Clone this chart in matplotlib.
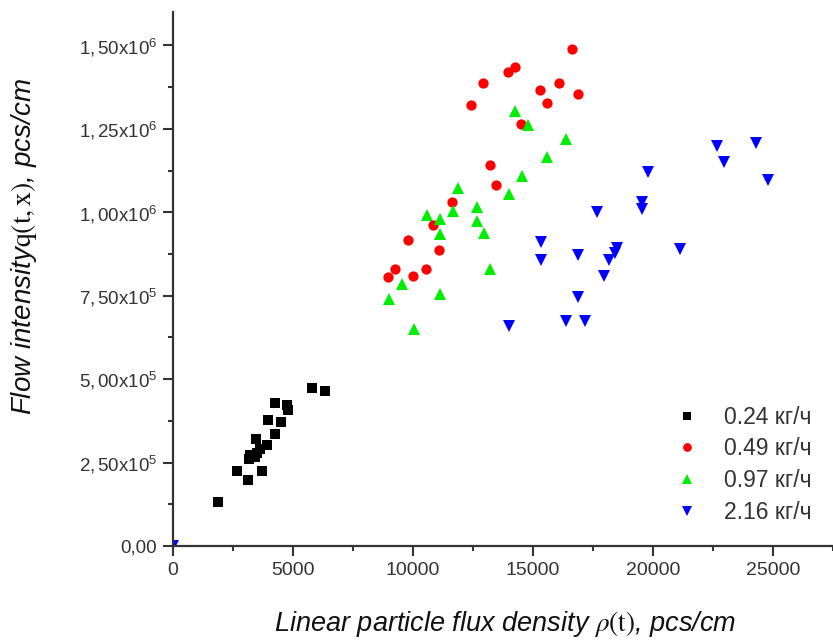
import matplotlib
matplotlib.use("Agg")
import matplotlib.pyplot as plt
from matplotlib.ticker import FuncFormatter, MultipleLocator

plt.rcParams['font.family'] = ['Liberation Sans', 'DejaVu Sans']
plt.rcParams['mathtext.fontset'] = 'stix'

# ---- data ----
series_labels = ["0.24 кг/ч", "0.49 кг/ч", "0.97 кг/ч", "2.16 кг/ч"]

x_024 = [1890, 2650, 3140, 3720, 3180, 3210, 3420, 3490, 3630, 3450, 3900,
         3970, 4250, 4500, 4250, 4740, 4780, 5800, 6330]
y_024 = [132000, 225000, 198000, 225000, 260000, 272000, 266000, 279000,
         292000, 322000, 302000, 377000, 337000, 372000, 427000, 422000,
         407000, 472000, 465000]

x_049 = [16610, 12930, 13970, 14250, 15290, 16100, 16860, 15600, 12400,
         14490, 13210, 13460, 11610, 10820, 9780, 11080, 9250, 8970, 10010,
         10540]
y_049 = [1490000, 1387000, 1420000, 1435000, 1365000, 1388000, 1355000,
         1327000, 1322000, 1265000, 1143000, 1081000, 1031000, 961000,
         916000, 886000, 831000, 806000, 809000, 831000]

x_097 = [14250, 14800, 16380, 15570, 14550, 14010, 11890, 12680, 11650,
         10570, 11130, 12680, 11130, 12960, 13210, 9530, 9010, 11130, 10040, 0]
y_097 = [1302000, 1260000, 1218000, 1166000, 1109000, 1056000, 1074000,
         1016000, 1004000, 991000, 981000, 974000, 936000, 938000, 831000,
         786000, 741000, 754000, 649000, 0]

x_216 = [22680, 24290, 22960, 24800, 19800, 19530, 19530, 17680, 15320,
         15330, 18490, 18420, 18180, 21130, 16890, 17960, 16890, 16380,
         17170, 14010, 0]
y_216 = [1198000, 1206000, 1151000, 1096000, 1121000, 1031000, 1011000,
         1001000, 911000, 858000, 893000, 878000, 858000, 889000, 871000,
         808000, 746000, 674000, 674000, 660000, 0]

y_ticks = [0, 250000, 500000, 750000, 1000000, 1250000, 1500000]
x_ticks = [0, 5000, 10000, 15000, 20000, 25000]

# ---- figure ----
W, H = 833, 640
fig = plt.figure(figsize=(W / 100, H / 100), dpi=100)
ax_left, ax_right, ax_bottom, ax_top = 173, 833, 546, 12
ax = fig.add_axes([ax_left / W, (H - ax_bottom) / H,
                   (ax_right - ax_left) / W, (ax_bottom - ax_top) / H])

ax.plot(x_024, y_024, ls='none', marker='s', ms=6.8, mew=0, color='black', label=series_labels[0])
ax.plot(x_049, y_049, ls='none', marker='o', ms=7.4, mew=0, color='#ff0000', label=series_labels[1])
ax.plot(x_097, y_097, ls='none', marker='^', ms=8.6, mew=0, color='#00ee00', label=series_labels[2])
ax.plot(x_216, y_216, ls='none', marker='v', ms=8.6, mew=0, color='#0000ff', label=series_labels[3])

ax.set_xlim(0, 27500)
ax.set_ylim(0, 1600000)
ax.set_xticks(x_ticks)
ax.set_yticks(y_ticks)
ax.xaxis.set_minor_locator(MultipleLocator(2500))
ax.yaxis.set_minor_locator(MultipleLocator(125000))


def yfmt(v, pos):
    if v == 0:
        return "0,00"
    exp = 6 if v >= 1e6 else 5
    mant = v / 10 ** exp
    s = f"{mant:.2f}".replace('.', ',')
    return r"$\mathregular{" + s + r"x10^{" + str(exp) + r"}}$"


ax.yaxis.set_major_formatter(FuncFormatter(yfmt))
ax.xaxis.set_major_formatter(FuncFormatter(lambda v, p: f"{int(v)}"))

for side in ('top', 'right'):
    ax.spines[side].set_visible(False)
for side in ('left', 'bottom'):
    ax.spines[side].set_linewidth(1.6)
    ax.spines[side].set_color('#333333')

ax.tick_params(axis='both', which='major', direction='out', length=7, width=1.5,
               color='#333333', labelcolor='#333333')
ax.tick_params(axis='both', which='minor', direction='out', length=3.5, width=1.5,
               color='#333333')
ax.tick_params(axis='x', which='major', labelsize=14, pad=4.5)
ax.tick_params(axis='y', which='major', labelsize=13.5, pad=4.5)

ax.set_xlabel(r"Linear particle flux density $\rho\mathrm{(t)}$, pcs/cm",
              fontsize=19.5, style='italic', color='#111111')
ax.xaxis.label.set_va('baseline')
ax.xaxis.set_label_coords(0.503, (ax_bottom - 631) / (ax_bottom - ax_top))

ax.set_ylabel(r"Flow intensity$\mathrm{q(t, x)}$, pcs/cm",
              fontsize=20, style='italic', color='#111111')
ax.yaxis.label.set_va('baseline')
ax.yaxis.set_label_coords((31 - ax_left) / (ax_right - ax_left),
                          (ax_bottom - 246) / (ax_bottom - ax_top))

leg = ax.legend(loc='upper left', bbox_to_anchor=(653 / W, 1 - 385 / H),
                bbox_transform=fig.transFigure, frameon=False, fontsize=16.5,
                handlelength=1.2, handletextpad=1.02, labelspacing=0.38,
                borderpad=0.4, markerscale=0.85)
for t in leg.get_texts():
    t.set_color('#333333')

fig.savefig("out.png", dpi=100)
